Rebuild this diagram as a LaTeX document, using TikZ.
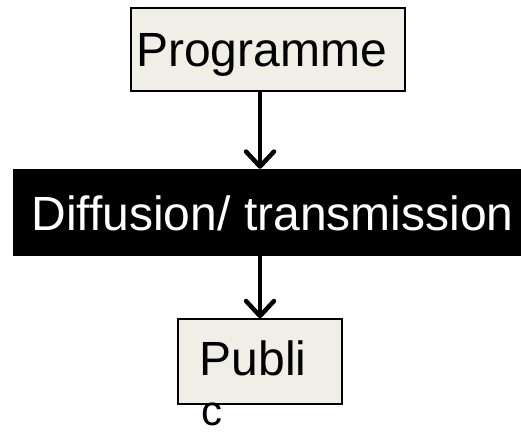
\documentclass[tikz,border=0pt]{standalone}
\usepackage{fontspec}
\setmainfont{Liberation Sans}
\usetikzlibrary{arrows.meta}
\definecolor{boxfill}{HTML}{EFEEE7}
\tikzset{
  lightbox/.style={draw=black, line width=1.5pt, fill=boxfill, inner sep=0pt},
  darkbox/.style={fill=black, inner sep=0pt},
  bigtext/.style={inner sep=0pt, font=\fontsize{48}{58}\selectfont},
  arr/.style={line width=4.5pt, -{Straight Barb[length=15pt,width=28pt,line cap=round,line join=round]}}
}
\begin{document}
\begin{tikzpicture}[x=1pt,y=-1pt]
\useasboundingbox (0,0) rectangle (521,433);
\node[lightbox, minimum width=274pt, minimum height=83pt] (progbox) at (268,49.5) {};
\node[bigtext, anchor=base] (progtext) at (261.5,67) {Programme};
\node[darkbox, minimum width=508pt, minimum height=87pt] (diffbox) at (267,212.5) {};
\node[bigtext, anchor=base, text=white] (difftext) at (272.5,230) {Diffusion/ transmission};
\node[lightbox, minimum width=164pt, minimum height=85pt] (pubbox) at (260,361.5) {};
\node[bigtext, anchor=base] (pubtext) at (253,375) {Publi};
\node[inner sep=0pt, anchor=base, font=\fontsize{42}{50}\selectfont] (ctext) at (212,425) {c};
\coordinate (ax) at (260,0);
\draw[arr] (progbox.south -| ax) -- (diffbox.north -| ax);
\draw[arr] (diffbox.south -| pubbox.north) -- (pubbox.north);
\end{tikzpicture}
\end{document}
